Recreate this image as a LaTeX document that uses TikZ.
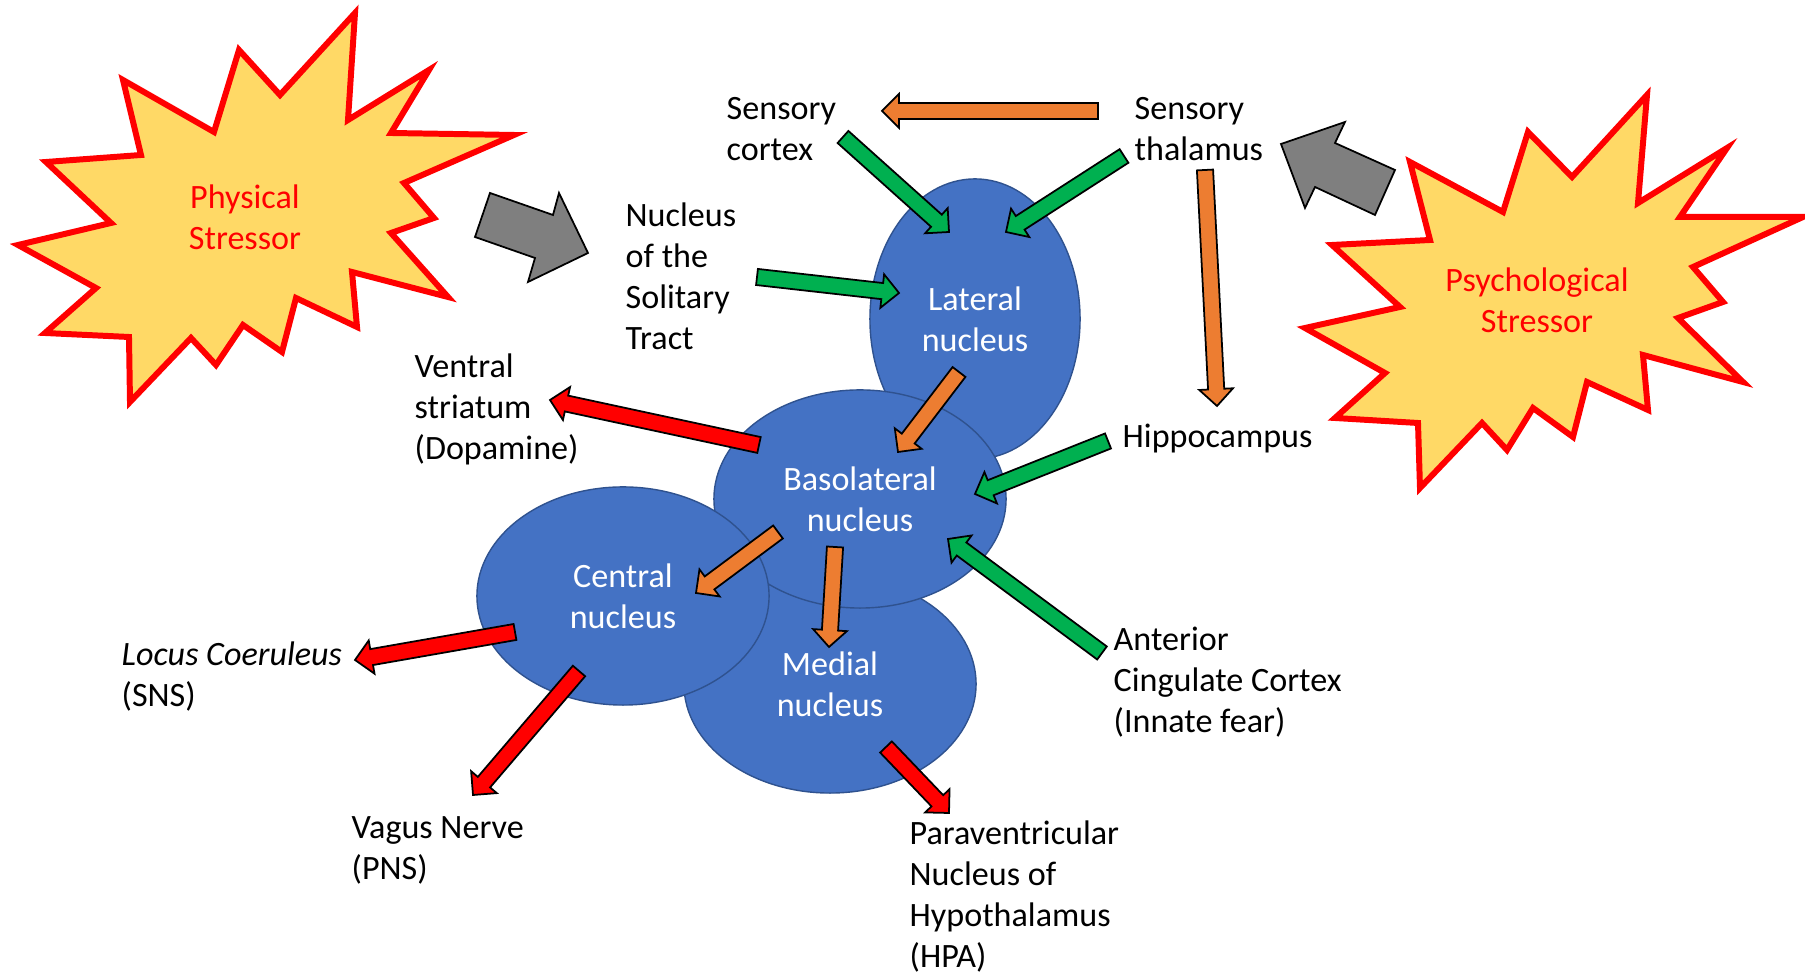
\documentclass[tikz,border=0pt]{standalone}
\usepackage{fontspec}
\setmainfont{Carlito}
\usepackage{xcolor}
\usepackage{tikz}
\usetikzlibrary{shapes,arrows,positioning,calc}

\definecolor{nucfill}{HTML}{4472C4}
\definecolor{nucedge}{HTML}{2F528F}
\definecolor{arrgreen}{HTML}{00B050}
\definecolor{arrorange}{HTML}{ED7D31}
\definecolor{arrred}{HTML}{FF0000}
\definecolor{arrgray}{HTML}{7F7F7F}
\definecolor{burstfill}{HTML}{FFD966}

% block arrow: colour, tail, tip
\newcommand{\blockarrow}[3]{%
  \coordinate (ba-base) at ($(#3)!4.8pt!(#2)$);
  \draw[barrow, fill=#1]
    ($(#2)!2.3pt!90:(#3)$) -- ($(ba-base)!2.3pt!90:(#3)$)
    -- ($(ba-base)!4.8pt!90:(#3)$) -- (#3)
    -- ($(ba-base)!4.8pt!-90:(#3)$) -- ($(ba-base)!2.3pt!-90:(#3)$)
    -- ($(#2)!2.3pt!-90:(#3)$) -- cycle;
}

\begin{document}
\begin{tikzpicture}[
    x=0.01cm, y=-0.01cm,
    font=\fontsize{9.7pt}{11.7pt}\selectfont,
    nucleus/.style={ellipse, draw=nucedge, line width=0.4pt, fill=nucfill, text=white, align=center, inner sep=0pt},
    txt/.style={align=left, anchor=base west, inner sep=0pt},
    stress/.style={text=arrred, align=center, inner sep=0pt},
    burst/.style={draw=arrred, fill=burstfill, line width=1.7pt, line join=miter},
    bigarrow/.style={draw=black, fill=arrgray, line width=0.5pt, line join=miter},
    barrow/.style={draw=black, line width=0.5pt, line join=miter}
]
    \useasboundingbox (0,0) rectangle (1805,974);

    % Stressors
    \draw[burst] (355,13) -- (348,120) -- (429,70) -- (391,133) -- (514,135) -- (404,183)
        -- (434,218) -- (391,233) -- (448,297) -- (352,272) -- (357,327) -- (296,298)
        -- (282,352) -- (243,325) -- (216,365) -- (191,338) -- (130,402) -- (129,337)
        -- (45,333) -- (96,288) -- (18,245) -- (111,223) -- (46,162) -- (141,155)
        -- (123,80) -- (214,132) -- (239,50) -- (280,95) -- cycle;
    \node[stress] (phys) at (245,217) {Physical\\Stressor};

    \draw[burst] (1647,95) -- (1638,203) -- (1727,148) -- (1680,217) -- (1803,217) -- (1693,267)
        -- (1723,302) -- (1678,318) -- (1743,382) -- (1643,355) -- (1648,410) -- (1587,382)
        -- (1573,437) -- (1533,408) -- (1507,450) -- (1482,423) -- (1420,488) -- (1418,423)
        -- (1335,418) -- (1385,373) -- (1305,328) -- (1400,307) -- (1332,245) -- (1430,240)
        -- (1410,162) -- (1503,212) -- (1528,132) -- (1572,177) -- cycle;
    \node[stress] (psych) at (1537,300) {Psychological\\Stressor};

    % Gray input arrows
    \draw[bigarrow] (490,193) -- (553,215) -- (559,193) -- (588,253) -- (528,282) -- (535,258) -- (475,237) -- cycle;
    \draw[bigarrow] (1281,144) -- (1345,122) -- (1335,143) -- (1395,170) -- (1375,215) -- (1315,187) -- (1305,208) -- cycle;

    % Amygdala nuclei
    \node[nucleus, minimum width=2.10cm, minimum height=2.80cm] (lateral) at (975,319) {Lateral\\nucleus};
    \node[nucleus, minimum width=2.92cm, minimum height=2.18cm] (medial) at (830,684) {Medial\\nucleus};
    \node[nucleus, minimum width=2.92cm, minimum height=2.18cm] (baso) at (860,499) {Basolateral\\nucleus};
    \node[nucleus, minimum width=2.92cm, minimum height=2.18cm] (central) at (623,596) {Central\\nucleus};

    % Labels (placed at the baseline of their last line)
    \node[txt] (cortex) at (726,161) {Sensory\\cortex};
    \node[txt] (thalamus) at (1134,161) {Sensory\\thalamus};
    \node[txt] (nts) at (625,350) {Nucleus\\of the\\Solitary\\Tract};
    \node[txt] (striatum) at (414,460) {Ventral\\striatum\\(Dopamine)};
    \node[txt] (hippo) at (1122,448) {Hippocampus};
    \node[txt] (acc) at (1113,733) {Anterior\\Cingulate Cortex\\(Innate fear)};
    \node[txt] (lc) at (121,707) {\textit{Locus Coeruleus}\\(SNS)};
    \node[txt] (vagus) at (351,880) {Vagus Nerve\\(PNS)};
    \node[txt] (pvn) at (909,968) {Paraventricular\\Nucleus of\\Hypothalamus\\(HPA)};

    % Arrow ends
    \coordinate (thal-out) at (1098,111);
    \coordinate (ctx-in) at (882,111);
    \coordinate (ctx-out) at (843,137);
    \coordinate (lat-in1) at (949,232);
    \coordinate (thal-out2) at (1124,156);
    \coordinate (lat-in2) at (1006,232);
    \coordinate (nts-out) at (757,277);
    \coordinate (lat-in3) at (899,293);
    \coordinate (thal-out3) at (1205,170);
    \coordinate (hippo-in) at (1217,406);
    \coordinate (lat-out) at (959,372);
    \coordinate (baso-in1) at (898,452);
    \coordinate (baso-out1) at (759,445);
    \coordinate (str-in) at (550,400);
    \coordinate (hippo-out) at (1108,441);
    \coordinate (baso-in2) at (975,494);
    \coordinate (acc-out) at (1102,653);
    \coordinate (baso-in3) at (948,539);
    \coordinate (baso-out2) at (778,532);
    \coordinate (cen-in) at (696,593);
    \coordinate (baso-out3) at (835,547);
    \coordinate (med-in) at (829,647);
    \coordinate (cen-out1) at (515,632);
    \coordinate (lc-in) at (355,660);
    \coordinate (cen-out2) at (579,671);
    \coordinate (vagus-in) at (473,795);
    \coordinate (med-out) at (886,747);
    \coordinate (pvn-in) at (949,813);

    % Sensory input
    \blockarrow{arrorange}{thal-out}{ctx-in}
    \blockarrow{arrgreen}{ctx-out}{lat-in1}
    \blockarrow{arrgreen}{thal-out2}{lat-in2}
    \blockarrow{arrgreen}{nts-out}{lat-in3}
    \blockarrow{arrorange}{thal-out3}{hippo-in}

    % Internal flow
    \blockarrow{arrorange}{lat-out}{baso-in1}
    \blockarrow{arrgreen}{hippo-out}{baso-in2}
    \blockarrow{arrgreen}{acc-out}{baso-in3}
    \blockarrow{arrorange}{baso-out2}{cen-in}
    \blockarrow{arrorange}{baso-out3}{med-in}

    % Outputs
    \blockarrow{arrred}{baso-out1}{str-in}
    \blockarrow{arrred}{cen-out1}{lc-in}
    \blockarrow{arrred}{cen-out2}{vagus-in}
    \blockarrow{arrred}{med-out}{pvn-in}

\end{tikzpicture}
\end{document}
